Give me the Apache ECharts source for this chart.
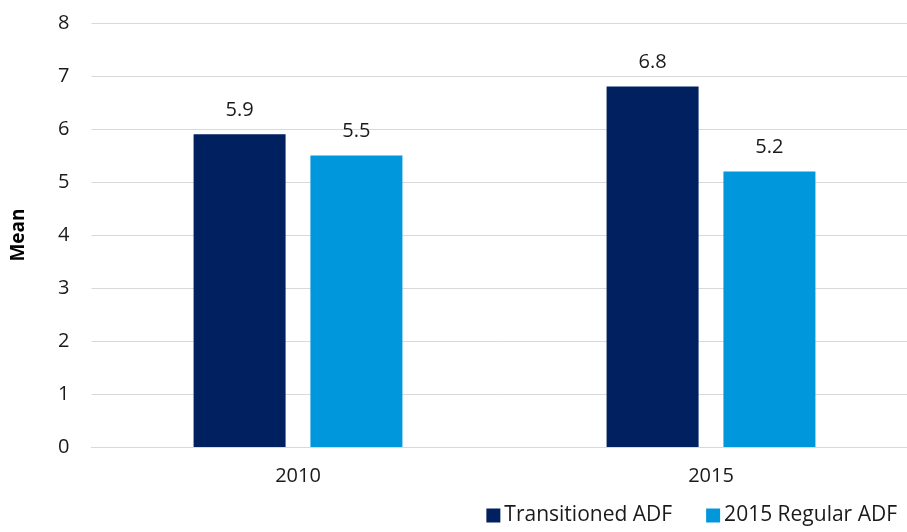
<!DOCTYPE html>
<html>
<head>
<meta charset="utf-8">
<script src="https://cdn.jsdelivr.net/npm/echarts@6/dist/echarts.min.js"></script>
<style>html,body{margin:0;padding:0;background:#fff;}#c{width:907px;height:532px;}</style>
</head>
<body>
<div id="c"></div>
<script>
const categories = ['2010', '2015'];
const transitioned = [5.9, 6.8];
const regular2015 = [5.5, 5.2];
const yTicks = [0, 1, 2, 3, 4, 5, 6, 7, 8];
const seriesNames = ['Transitioned ADF', '2015 Regular ADF'];

const FONT = 'Open Sans';
const chart = echarts.init(document.getElementById('c'), null, {renderer: 'canvas'});
chart.setOption({
  animation: false,
  textStyle: {fontFamily: FONT},
  grid: {left: 91.5, width: 826, top: 23, bottom: 85, containLabel: false, outerBoundsMode: 'none'},
  legend: {
    data: seriesNames,
    right: 5,
    bottom: 1,
    itemWidth: 14,
    itemHeight: 14,
    itemGap: 34,
    icon: 'rect',
    textStyle: {fontFamily: FONT, fontSize: 21, color: '#1a1a1a', padding: [0, 0, 0, -1]}
  },
  xAxis: {
    type: 'category',
    data: categories,
    axisTick: {show: false},
    axisLine: {lineStyle: {color: '#d9d9d9', width: 1}},
    axisLabel: {fontFamily: FONT, fontSize: 20, color: '#1a1a1a', margin: 19}
  },
  yAxis: {
    type: 'value',
    min: yTicks[0],
    max: yTicks[yTicks.length - 1],
    interval: 1,
    name: 'Mean',
    nameLocation: 'middle',
    nameGap: 63,
    nameRotate: 90,
    nameMoveOverlap: false,
    nameTextStyle: {fontFamily: FONT, fontSize: 19, fontWeight: 'bold', color: '#000'},
    axisLine: {show: false},
    axisTick: {show: false},
    splitLine: {lineStyle: {color: '#d9d9d9', width: 1}},
    axisLabel: {fontFamily: FONT, fontSize: 20, color: '#1a1a1a', margin: 22}
  },
  series: [
    {
      name: seriesNames[0],
      type: 'bar',
      data: transitioned,
      barWidth: 92,
      barGap: '27%',
      itemStyle: {color: '#002060'},
      label: {show: true, position: 'top', distance: 14, fontFamily: FONT, fontSize: 20, color: '#1a1a1a'}
    },
    {
      name: seriesNames[1],
      type: 'bar',
      data: regular2015,
      barWidth: 92,
      barGap: '27%',
      itemStyle: {color: '#0097DD'},
      label: {show: true, position: 'top', distance: 14, fontFamily: FONT, fontSize: 20, color: '#1a1a1a'}
    }
  ]
});
</script>
</body>
</html>
